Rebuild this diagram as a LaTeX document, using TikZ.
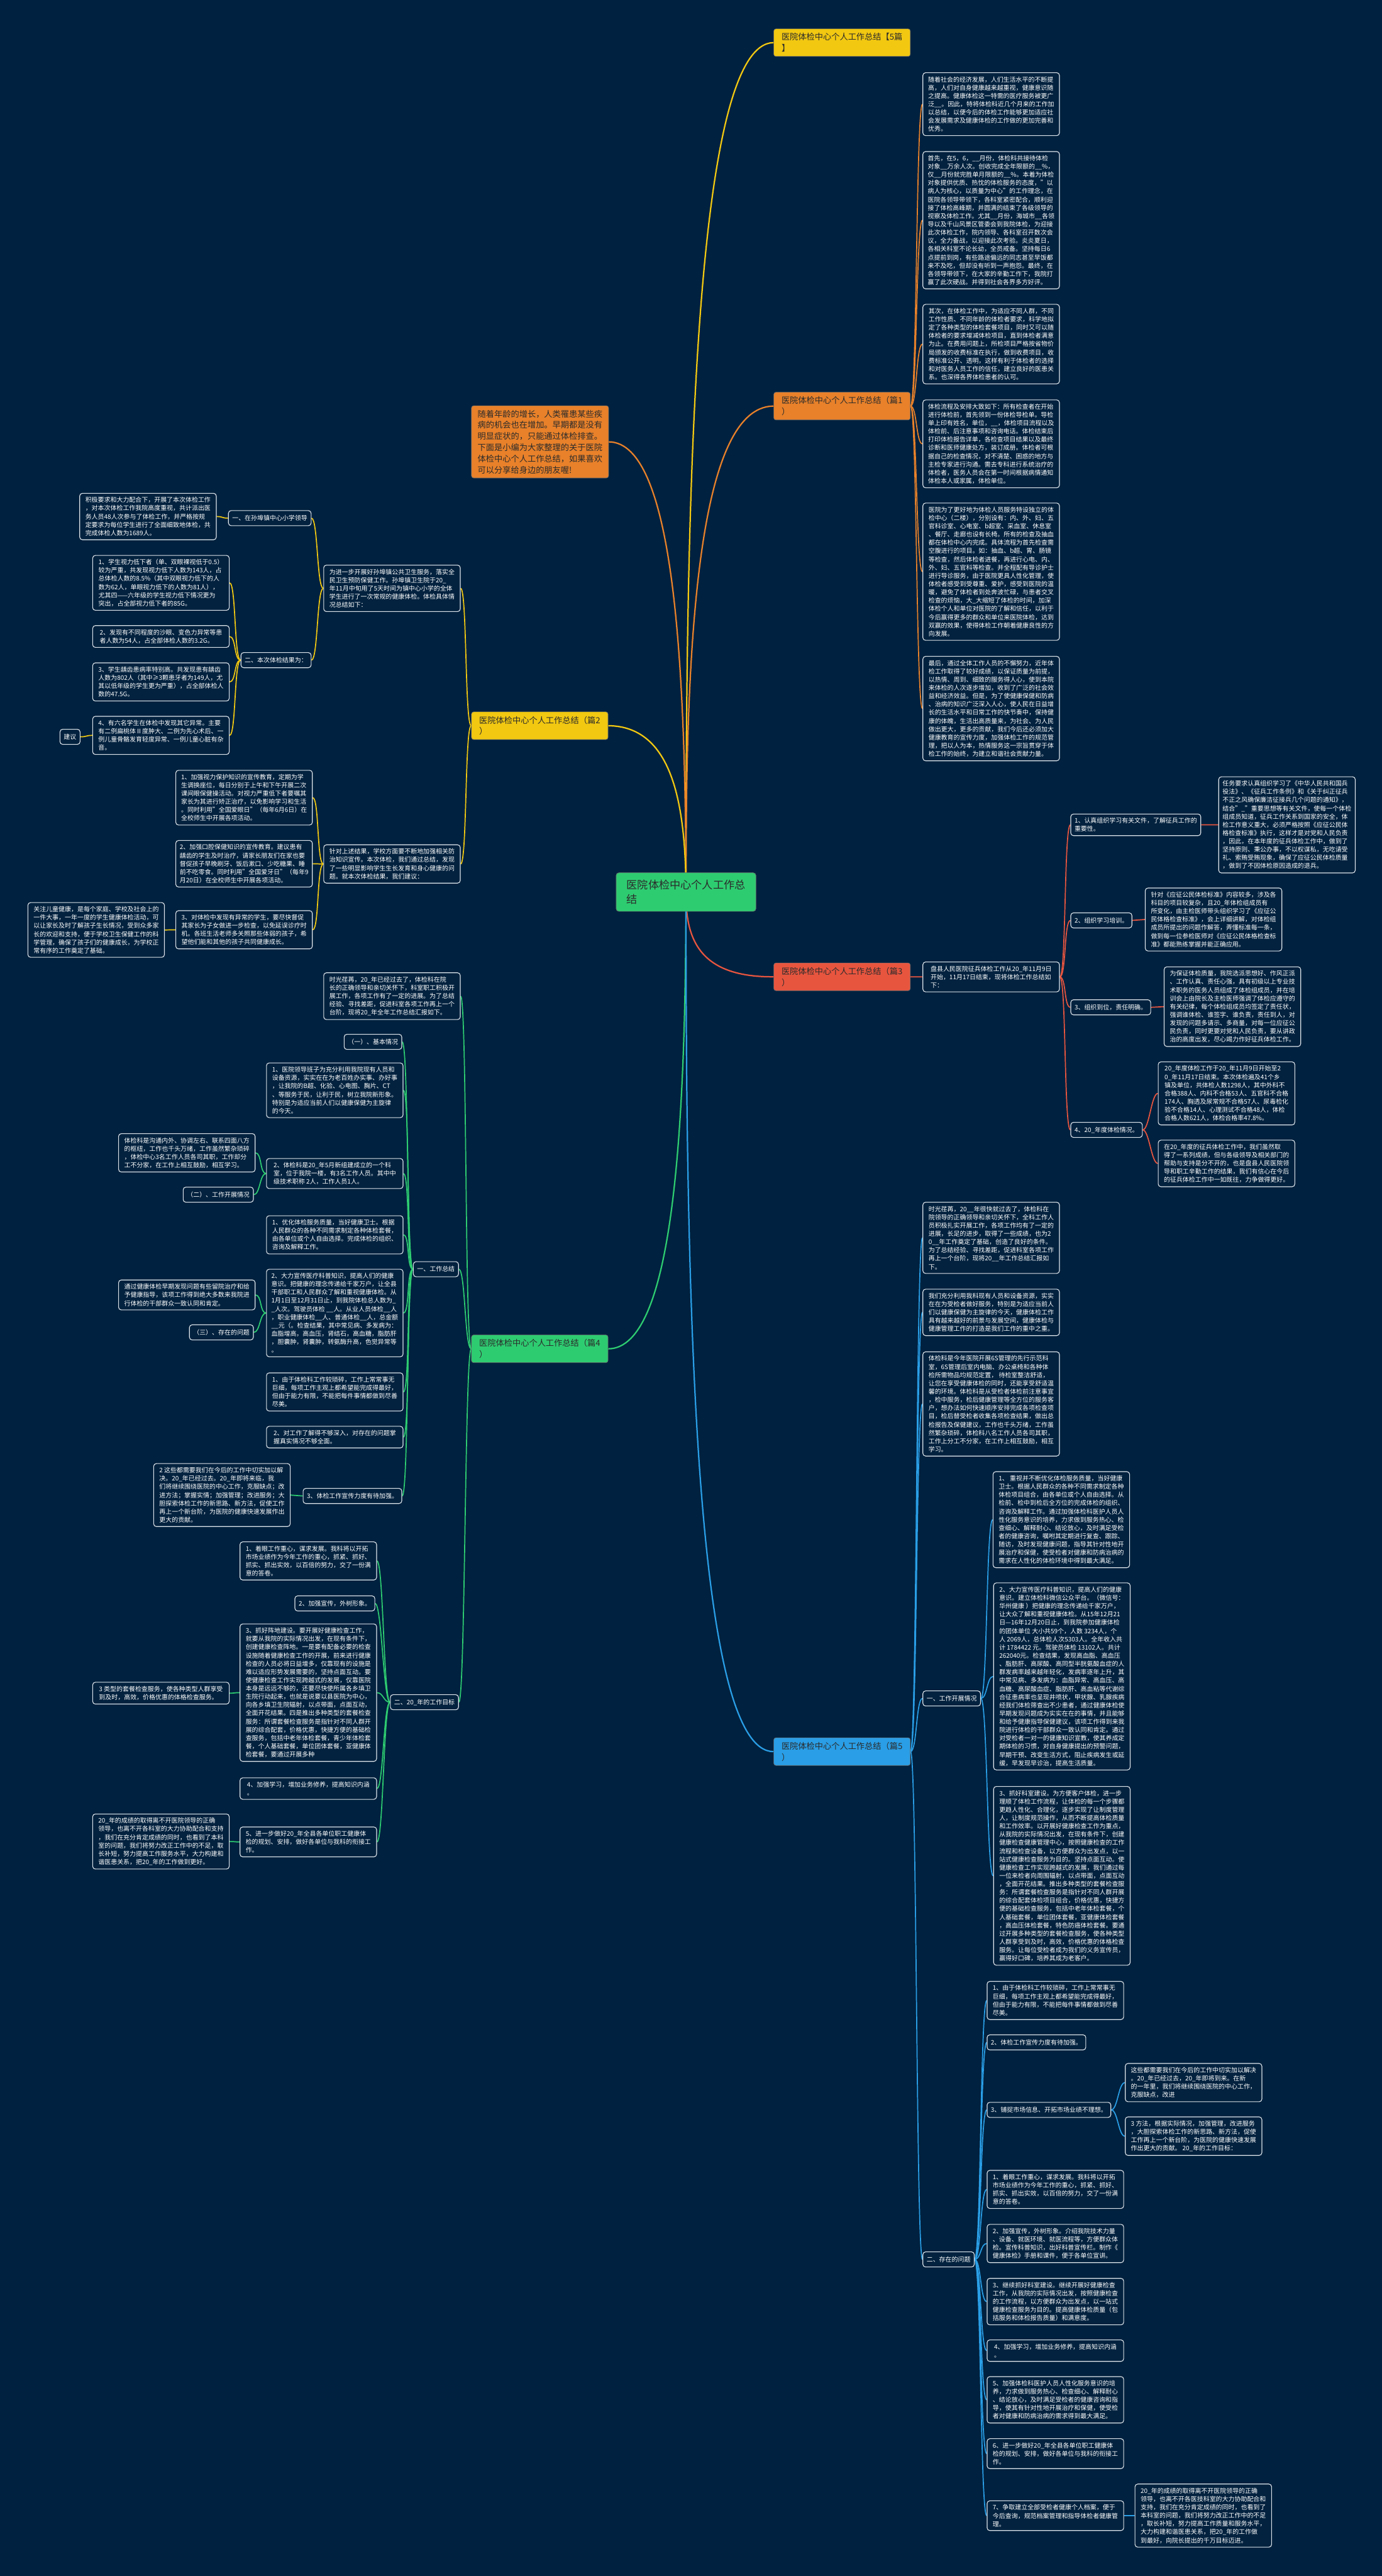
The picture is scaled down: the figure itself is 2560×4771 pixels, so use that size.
\documentclass[tikz,border=0pt]{standalone}
\usepackage{fontspec}
\setmainfont{Noto Sans CJK SC}
\definecolor{navy}{HTML}{00213F}
\definecolor{boxfill}{HTML}{03223F}
\definecolor{boxline}{HTML}{DDE3EA}
\definecolor{yel}{HTML}{F2C811}
\definecolor{org}{HTML}{E8812A}
\definecolor{rd}{HTML}{E8553F}
\definecolor{grn}{HTML}{2ECC71}
\definecolor{blu}{HTML}{2A9EE6}
\definecolor{ink}{HTML}{2B2B2B}
\pgfdeclarelayer{paper}
\pgfdeclarelayer{links}
\pgfsetlayers{paper,links,main}

\begin{document}
\begin{tikzpicture}[x=1pt, y=-1pt,
    txt/.style={draw=boxline, fill=boxfill, line width=1.3pt, rounded corners=5pt,
      text=white, align=left, inner xsep=7pt, inner ysep=7pt,
      font=\fontsize{11.6}{15.3}\selectfont},
    wide/.style={txt, anchor=north west, minimum width=253pt},
    tag/.style={txt, anchor=north west, minimum height=28pt},
    ltag/.style={txt, anchor=north east, minimum height=28pt},
    ttl/.style={fill=#1, draw=ink!70, line width=0.8pt, rounded corners=4pt, text=ink,
      align=left, anchor=north west, minimum width=253pt, inner xsep=8pt, inner ysep=8pt,
      font=\fontsize{15.4}{20.7}\selectfont},
    hubbox/.style={fill=grn, draw=ink!70, line width=0.8pt, rounded corners=5pt, text=ink,
      align=left, anchor=north west, minimum width=259pt, inner xsep=12pt, inner ysep=13pt,
      font=\fontsize{20}{27}\selectfont},
    trunk/.style={line width=2.6pt},
    twig/.style={line width=2pt}
  ]
  \begin{pgfonlayer}{paper}
    \fill[navy] (0,0) rectangle (2560,4771);
  \end{pgfonlayer}
  \useasboundingbox (0,0) rectangle (2560,4771);

  % centre and branch titles
  \node[hubbox] (hub) at (1141,1616) {医院体检中心个人工作总\\结};
  \node[ttl=yel] (t0) at (1433,53) {医院体检中心个人工作总结【5篇\\】};
  \node[ttl=org] (t1) at (1433,726) {医院体检中心个人工作总结（篇1\\）};
  \node[ttl=org, minimum width=254pt] (intro) at (873,751) {随着年龄的增长，人类罹患某些疾\\病的机会也在增加。早期都是没有\\明显症状的，只能通过体检排查。\\下面是小编为大家整理的关于医院\\体检中心个人工作总结，如果喜欢\\可以分享给身边的朋友喔!};
  \node[ttl=yel] (t2) at (873,1318) {医院体检中心个人工作总结（篇2\\）};
  \node[ttl=rd] (t3) at (1433,1783) {医院体检中心个人工作总结（篇3\\）};
  \node[ttl=grn] (t4) at (873,2472) {医院体检中心个人工作总结（篇4\\）};
  \node[ttl=blu] (t5) at (1433,3218) {医院体检中心个人工作总结（篇5\\）};

  % 篇1
  \node[wide] (bA) at (1709,134) {随着社会的经济发展，人们生活水平的不断提\\高，人们对自身健康越来越重视，健康意识随\\之提高。健康体检这一特需的医疗服务被更广\\泛\_\_。因此，特将体检科近几个月来的工作加\\以总结，以便今后的体检工作能够更加适应社\\会发展需求及健康体检的工作做的更加完善和\\优秀。};
  \node[wide] (bB) at (1709,280) {首先，在5，6，\_\_月份，体检科共接待体检\\对象\_\_万余人次。创收完成全年限额的\_\_\%，\\仅\_\_月份就完胜单月限额的\_\_\%。本着为体检\\对象提供优质、热忱的体检服务的态度，"以\\病人为核心，以质量为中心"的工作理念，在\\医院各领导带领下，各科室紧密配合，顺利迎\\接了体检高峰期，并圆满的结束了各级领导的\\视察及体检工作。尤其\_\_月份，海城市\_\_各领\\导以及千山风景区管委会到我院体检，为迎接\\此次体检工作，院内领导、各科室召开数次会\\议，全力备战，以迎接此次考验。炎炎夏日，\\各相关科室不论长幼，全员戒备。坚持每日6\\点提前到岗，有些路途偏远的同志甚至早饭都\\来不及吃，但却没有听到一声抱怨。最终，在\\各领导带领下，在大家的辛勤工作下，我院打\\赢了此次硬战。并得到社会各界多方好评。};
  \node[wide] (bC) at (1709,563) {其次，在体检工作中，为适应不同人群，不同\\工作性质、不同年龄的体检者要求，科学地拟\\定了各种类型的体检套餐项目，同时又可以随\\体检者的要求增减体检项目，直到体检者满意\\为止。在费用问题上，所检项目严格按省物价\\局颁发的收费标准在执行，做到收费项目，收\\费标准公开、透明，这样有利于体检者的选择\\和对医务人员工作的信任，建立良好的医患关\\系。也深得各界体检患者的认可。};
  \node[wide] (bD) at (1709,740) {体检流程及安排大致如下：所有检查者在开始\\进行体检前，首先领到一份体检导检单。导检\\单上印有姓名，单位，\_\_，体检项目流程以及\\体检前、后注意事项和咨询电话。体检结束后\\打印体检报告详单，各检查项目结果以及最终\\诊断和医师健康处方，装订成册。体检者可根\\据自己的检查情况，对不清楚、困惑的地方与\\主检专家进行沟通。需去专科进行系统治疗的\\体检者，医务人员会在第一时间根据病情通知\\体检本人或家属，体检单位。};
  \node[wide] (bE) at (1709,931) {医院为了更好地为体检人员服务特设独立的体\\检中心（二楼），分别设有：内、外、妇、五\\官科诊室、心电室、b超室、采血室、休息室\\、餐厅、走廊也设有长椅。所有的检查及抽血\\都在体检中心内完成。具体流程为首先检查需\\空腹进行的项目。如：抽血、b超、胃、肠镜\\等检查，然后体检者进餐，再进行心电、内、\\外、妇、五官科等检查。并全程配有导诊护士\\进行导诊服务，由于医院更具人性化管理，使\\体检者感受到受尊重、爱护，感受到医院的温\\暖，避免了体检者到处奔波忙碌，与患者交叉\\检查的烦恼，大\_大缩短了体检的时间，加深\\体检个人和单位对医院的了解和信任，以利于\\今后赢得更多的群众和单位来医院体检，达到\\双赢的效果，使得体检工作朝着健康良性的方\\向发展。};
  \node[wide] (bF) at (1709,1215) {最后，通过全体工作人员的不懈努力，近年体\\检工作取得了较好成绩，以保证质量为前提，\\以热情、周到、细致的服务得人心，使到本院\\来体检的人次逐步增加，收到了广泛的社会效\\益和经济效益。但是，为了使健康保健和防病\\、治病的知识广泛深入人心，使人民在日益增\\长的生活水平和日常工作的快节奏中，保持健\\康的体魄，生活出高质量来，为社会、为人民\\做出更大，更多的贡献，我们今后还必须加大\\健康教育的宣传力度，加强体检工作的规范管\\理，把以人为本，热情服务这一宗旨贯穿于体\\检工作的始终，为建立和谐社会贡献力量。};

  % 篇2
  \node[wide] (k1) at (599,1046) {为进一步开展好孙埠镇公共卫生服务，落实全\\民卫生预防保健工作。孙埠镇卫生院于20\_\\年11月中旬用了5天时间为镇中心小学的全体\\学生进行了一次常规的健康体检。体检具体情\\况总结如下：};
  \node[ltag] (m1) at (577,945) {一、在孙埠镇中心小学领导};
  \node[wide] (m1a) at (147,913) {积极要求和大力配合下，开展了本次体检工作\\，对本次体检工作我院高度重视，共计派出医\\务人员48人次参与了体检工作，并严格按规\\定要求为每位学生进行了全面细致地体检，共\\完成体检人数为1689人。};
  \node[ltag] (m2) at (577,1208) {二、本次体检结果为：};
  \node[wide] (s1) at (171,1028) {1、学生视力低下者（单、双眼裸视低于0.5）\\较为严重，共发现视力低下人数为143人，占\\总体检人数的8.5\%（其中双眼视力低下的人\\数为62人，单眼视力低下的人数为81人），\\尤其四——六年级的学生视力低下情况更为\\突出，占全部视力低下者的85G。};
  \node[wide] (s2) at (171,1158) {2、发现有不同程度的沙眼、变色力异常等患\\者人数为54人，占全部体检人数的3.2G。};
  \node[wide] (s3) at (171,1227) {3、学生龋齿患病率特别高。共发现患有龋齿\\人数为802人（其中≥3颗患牙者为149人，尤\\其以低年级的学生更为严重），占全部体检人\\数的47.5G。};
  \node[wide] (s4) at (171,1326) {4、有六名学生在体检中发现其它异常。主要\\有二例扁桃体Ⅱ度肿大、二例为先心术后、一\\例儿童骨骼发育轻度异常、一例儿童心脏有杂\\音。};
  \node[ltag] (jy) at (149,1350) {建议};
  \node[wide] (k2) at (599,1564) {针对上述结果，学校方面要不断地加强相关防\\治知识宣传。本次体检，我们通过总结，发现\\了一些明显影响学生生长发育和身心健康的问\\题。就本次体检结果，我们建议：};
  \node[wide] (j1) at (325,1426) {1、加强视力保护知识的宣传教育，定期为学\\生调换座位，每日分别于上午和下午开展二次\\课间眼保健操活动。对视力严重低下者要嘱其\\家长为其进行矫正治疗，以免影响学习和生活\\。同时利用"全国爱眼日"（每年6月6日）在\\全校师生中开展各项活动。};
  \node[wide] (j2) at (325,1556) {2、加强口腔保健知识的宣传教育。建议患有\\龋齿的学生及时治疗，请家长朋友们在家也要\\督促孩子早晚刷牙、饭后漱口、少吃糖果、睡\\前不吃零食。同时利用"全国爱牙日"（每年9\\月20日）在全校师生中开展各项活动。};
  \node[wide] (j3) at (325,1686) {3、对体检中发现有异常的学生，要尽快督促\\其家长为子女做进一步检查，以免延误诊疗时\\机。各班生活老师多关照那些体弱的孩子，希\\望他们能和其他的孩子共同健康成长。};
  \node[wide] (gz) at (51,1671) {关注儿童健康，是每个家庭、学校及社会上的\\一件大事，一年一度的学生健康体检活动，可\\以让家长及时了解孩子生长情况，受到众多家\\长的欢迎和支持，便于学校卫生保健工作的科\\学管理，确保了孩子们的健康成长，为学校正\\常有序的工作奠定了基础。};

  % 篇3
  \node[wide] (p3) at (1709,1781) {盘县人民医院征兵体检工作从20\_年11月9日\\开始，11月17日结束，现将体检工作总结如\\下：};
  \node[tag] (r1) at (1983,1507) {1、认真组织学习有关文件，了解征兵工作的\\重要性。};
  \node[wide] (r1a) at (2257,1438) {任务要求认真组织学习了《中华人民共和国兵\\役法》、《征兵工作条例》和《关于纠正征兵\\不正之风确保廉洁征接兵几个问题的通知》，\\结合"\_"重要思想等有关文件，使每一个体检\\组成员知道，征兵工作关系到国家的安全，体\\检工作意义重大，必须严格按照《应征公民体\\格检查标准》执行，这样才是对党和人民负责\\，因此，在本年度的征兵体检工作中，做到了\\坚持原则、秉公办事，不以权谋私，无吃请受\\礼、索贿受贿现象，确保了应征公民体检质量\\，做到了不因体检原因造成的退兵。};
  \node[tag] (r2) at (1983,1690) {2、组织学习培训。};
  \node[wide] (r2a) at (2121,1644) {针对《应征公民体检标准》内容较多，涉及各\\科目的项目较复杂，且20\_年体检组成员有\\所变化，由主检医师带头组织学习了《应征公\\民体格检查标准》，会上详细讲解，对体检组\\成员所提出的问题作解答，弄懂标准每一条，\\做到每一位参检医师对《应征公民体格检查标\\准》都能熟练掌握并能正确应用。};
  \node[tag] (r3) at (1983,1851) {3、组织到位，责任明确。};
  \node[wide] (r3a) at (2156,1790) {为保证体检质量，我院选派思想好、作风正派\\、工作认真、责任心强，具有初级以上专业技\\术职务的医务人员组成了体检组成员，并在培\\训会上由院长及主检医师强调了体检应遵守的\\有关纪律，每个体检组成员均签定了责任状，\\强调谁体检、谁签字、谁负责，责任到人，对\\发现的问题多请示、多商量，对每一位应征公\\民负责，同时更要对党和人民负责，要从讲政\\治的高度出发，尽心竭力作好征兵体检工作。};
  \node[tag] (r4) at (1983,2078) {4、20\_年度体检情况。};
  \node[wide] (r4a) at (2145,1966) {20\_年度体检工作于20\_年11月9日开始至2\\0\_年11月17日结束。本次体检遍及41个乡\\镇及单位，共体检人数1298人，其中外科不\\合格388人、内科不合格53人、五官科不合格\\174人、胸透及尿常规不合格57人、尿毒检化\\验不合格14人、心理测试不合格48人，体检\\合格人数621人，体检合格率47.8\%。};
  \node[wide] (r4b) at (2145,2111) {在20\_年度的征兵体检工作中，我们虽然取\\得了一系列成绩，但与各级领导及相关部门的\\帮助与支持是分不开的，也是盘县人民医院领\\导和职工辛勤工作的结果，我们有信心在今后\\的征兵体检工作中一如既往，力争做得更好。};

  % 篇4
  \node[wide] (u0) at (599,1801) {时光荏苒，20\_年已经过去了，体检科在院\\长的正确领导和亲切关怀下，科室职工积极开\\展工作，各项工作有了一定的进展。为了总结\\经验、寻找差距，促进科室各项工作再上一个\\台阶，现将20\_年全年工作总结汇报如下。};
  \node[ltag] (u1) at (850,2336) {一、工作总结};
  \node[ltag] (v0) at (745,1915) {（一）、基本情况};
  \node[wide] (v1) at (493,1968) {1、医院领导班子为充分利用我院现有人员和\\设备资源，实实在在为老百姓办实事、办好事\\，让我院的B超、化验、心电图、胸片、CT\\、等服务于民，让利于民，树立我院新形象。\\ 特别是为适应当前人们以健康保健为主旋律\\的今天。};
  \node[wide] (v2) at (493,2145) {2、体检科是20\_年5月新组建成立的一个科\\室，位于我院一楼，有3名工作人员。其中中\\级技术职称 2人，工作人员1人。};
  \node[wide] (v2a) at (219,2099) {体检科是沟通内外、协调左右、联系四面八方\\的枢纽，工作也千头万绪，工作虽然繁杂琐碎\\，体检中心3名工作人员各司其职，工作却分\\工不分家，在工作上相互鼓励，相互学习。};
  \node[ltag] (v2b) at (470,2198) {（二）、工作开展情况};
  \node[wide] (v3) at (493,2251) {1、优化体检服务质量，当好健康卫士。根据\\人民群众的各种不同需求制定各种体检套餐，\\由各单位或个人自由选择。完成体检的组织、\\咨询及解释工作。};
  \node[wide] (v4) at (493,2350) {2、大力宣传医疗科普知识，提高人们的健康\\意识。把健康的理念传递给千家万户，让全县\\干部职工和人民群众了解和重视健康体检。从\\1月1日至12月31日止，到我院体检总人数为\_\\\_人次。驾驶员体检 \_\_人。从业人员体检\_\_人\\，职业健康体检\_\_人、普通体检\_\_人，总金额\\\_\_元（。检查结果，其中常见病、多发病为：\\血脂增高，高血压，肾结石，高血糖，脂肪肝\\，胆囊肿，肾囊肿，转氨酶升高，色觉异常等\\。};
  \node[wide] (v4a) at (219,2370) {通过健康体检早期发现问题有些留院治疗和给\\予健康指导，该项工作得到绝大多数来我院进\\行体检的干部群众一致认同和肯定。};
  \node[ltag] (v4b) at (470,2453) {（三）、存在的问题};
  \node[wide] (v5) at (493,2542) {1、由于体检科工作较琐碎，工作上常常事无\\巨细，每项工作主观上都希望能完成得最好，\\但由于能力有限，不能把每件事情都做到尽善\\尽美。};
  \node[wide] (v6) at (493,2641) {2、对工作了解得不够深入，对存在的问题掌\\握真实情况不够全面。};
  \node[ltag] (v7) at (745,2756) {3、体检工作宣传力度有待加强。};
  \node[wide] (v7a) at (284,2710) {2 这些都需要我们在今后的工作中切实加以解\\决。20\_年已经过去。20\_年即将来临，我\\们将继续围绕医院的中心工作，克服缺点；改\\进方法；掌握实情；加强管理；改进服务；大\\胆探索体检工作的新思路、新方法，促使工作\\再上一个新台阶，为医院的健康快速发展作出\\更大的贡献。};
  \node[ltag] (u2) at (850,3138) {二、20\_年的工作目标};
  \node[wide] (w1) at (444,2855) {1、着眼工作重心，谋求发展。我科将以开拓\\市场业绩作为今年工作的重心，抓紧、抓好、\\抓实、抓出实效，以百倍的努力，交了一份满\\意的答卷。};
  \node[ltag] (w2) at (695,2955) {2、加强宣传，外树形象。};
  \node[wide] (w3) at (444,3007) {3、抓好阵地建设。要开展好健康检查工作，\\就要从我院的实际情况出发，在现有条件下，\\创建健康检查阵地。一是要有配备必要的检查\\设施随着健康检查工作的开展，前来进行健康\\检查的人员必将日益增多，仅靠现有的设施是\\难以适应形势发展需要的，坚持点面互动。要\\使健康检查工作实现跨越式的发展，仅靠医院\\本身是远远不够的，还要尽快使所属各乡填卫\\生院行动起来，也就是说要以县医院为中心，\\向各乡填卫生院辐射，以点带面，点面互动，\\全面开花结果。四是推出多种类型的套餐检查\\服务：所谓套餐检查服务是指针对不同人群开\\展的综合配套，价格优惠，快捷方便的基础检\\查服务，包括中老年体检套餐，青少年体检套\\餐，个人基础套餐，单位团体套餐，亚健康体\\检套餐，要通过开展多种};
  \node[wide] (w3a) at (171,3115) {3 类型的套餐检查服务，使各种类型人群享受\\到及时，高效，价格优惠的体格检查服务。};
  \node[wide] (w4) at (444,3292) {4、加强学习，增加业务修养，提高知识内涵\\。};
  \node[wide] (w5) at (444,3383) {5、进一步做好20\_年全县各单位职工健康体\\检的规划、安排，做好各单位与我科的衔接工\\作。};
  \node[wide] (w5a) at (171,3359) {20\_年的成绩的取得离不开医院领导的正确\\领导，也离不开各科室的大力协助配合和支持\\，我们在充分肯定成绩的同时，也看到了本科\\室的问题，我们将努力改正工作中的不足，取\\长补短，努力提高工作服务水平，大力构建和\\谐医患关系，把20\_年的工作做到更好。};

  % 篇5
  \node[wide] (f1) at (1709,2226) {时光荏苒，20\_\_年很快就过去了，体检科在\\院领导的正确领导和亲切关怀下，全科工作人\\员积极扎实开展工作，各项工作均有了一定的\\进展，长足的进步，取得了一些成绩，也为2\\0\_\_年工作奠定了基础，创造了良好的条件。\\为了总结经验、寻找差距，促进科室各项工作\\再上一个台阶，现将20\_\_年工作总结汇报如\\下。};
  \node[wide] (f2) at (1709,2387) {我们充分利用我科现有人员和设备资源，实实\\在在为受检者做好服务，特别是为适应当前人\\们以健康保健为主旋律的今天，健康体检工作\\具有越来越好的前景与发展空间，健康体检与\\健康管理工作的打造是我们工作的重中之重。};
  \node[wide] (f3) at (1709,2503) {体检科是今年医院开展6S管理的先行示范科\\室，6S管理后室内电脑、办公桌椅和各种体\\检所需物品均规范定置， 待检室整洁舒适，\\让您在享受健康体检的同时，还能享受舒适温\\馨的环境。体检科是从受检者体检前注意事宜\\，检中服务，检后健康管理等全方位的服务客\\户，想办法如何快速顺序安排完成各项检查项\\目，检后替受检者收集各项检查结果，做出总\\检报告及保健建议，工作也千头万绪，工作虽\\然繁杂琐碎，体检科八名工作人员各司其职，\\工作上分工不分家，在工作上相互鼓励，相互\\学习。};
  \node[tag] (fg) at (1709,3131) {一、工作开展情况};
  \node[wide] (g1) at (1839,2725) {1、 重视并不断优化体检服务质量，当好健康\\卫士。根据人民群众的各种不同需求制定各种\\体检项目组合，由各单位或个人自由选择。从\\检前、检中到检后全方位的完成体检的组织、\\咨询及解释工作。通过加强体检科医护人员人\\性化服务意识的培养，力求做到服务热心、检\\查细心、解释耐心、结论放心，及时满足受检\\者的健康咨询，嘱咐其定期进行复查、跟踪、\\随访，及时发现健康问题，指导其针对性地开\\展治疗和保健，使受检者对健康和防病治病的\\需求在人性化的体检环境中得到最大满足。};
  \node[wide] (g2) at (1840,2931) {2、大力宣传医疗科普知识，提高人们的健康\\意识。建立体检科微信公众平台。（微信号：\\华州健康 ）把健康的理念传递给千家万户，\\让大众了解和重视健康体检。从15年12月21\\日—16年12月20日止，到我院参加健康体检\\的团体单位 大小共59个，人数 3234人，个\\人 2069人，总体检人次5303人。全年收入共\\计 1784422 元。驾驶员体检 13102人。共计\\262040元。检查结果，发现高血脂、高血压\\、脂肪肝、高尿酸、高同型半胱氨酸血症的人\\群发病率越来越年轻化，发病率逐年上升，其\\中常见病、多发病为：血脂异常、高血压、高\\血糖、高尿酸血症、脂肪肝、高血粘等代谢综\\合征患病率也呈现井喷状，甲状腺、乳腺疾病\\经我们体检筛查出不少患者，通过健康体检使\\早期发现问题成为实实在在的事情，并且能够\\和给予健康指导保健建议，该项工作得到来我\\院进行体检的干部群众一致认同和肯定。通过\\对受检者一对一的健康知识宣教，使其养成定\\期体检的习惯，对自身健康提出的预警问题，\\早期干预、改变生活方式，阻止疾病发生或延\\缓，早发现早诊治，提高生活质量。};
  \node[wide] (g3) at (1840,3308) {3、抓好科室建设。为方便客户体检，进一步\\理顺了体检工作流程，让体检的每一个步骤都\\更趋人性化、合理化，逐步实现了让制度管理\\人，让制度规范操作，从而不断提高体检质量\\和工作效率。以开展好健康检查工作为重点，\\从我院的实际情况出发，在现有条件下，创建\\健康检查健康管理中心，按照健康检查的工作\\流程和检查设备，以方便群众为出发点，以一\\站式健康检查服务为目的。坚持点面互动。使\\健康检查工作实现跨越式的发展，我们通过每\\一位来检者向周围辐射，以点带面，点面互动\\，全面开花结果。推出多种类型的套餐检查服\\务：所谓套餐检查服务是指针对不同人群开展\\的综合配套体检项目组合，价格优惠，快捷方\\便的基础检查服务，包括中老年体检套餐，个\\人基础套餐，单位团体套餐，亚健康体检套餐\\，高血压体检套餐，特色防癌体检套餐。要通\\过开展多种类型的套餐检查服务，使各种类型\\人群享受到及时，高效，价格优惠的体格检查\\服务。让每位受检者成为我们的义务宣传员，\\赢得好口碑，培养其成为老客户。};
  \node[tag] (fh) at (1709,4170) {二、存在的问题};
  \node[wide] (h1) at (1828,3669) {1、由于体检科工作较琐碎，工作上常常事无\\巨细，每项工作主观上都希望能完成得最好，\\但由于能力有限，不能把每件事情都做到尽善\\尽美。};
  \node[tag] (h2) at (1828,3768) {2、体检工作宣传力度有待加强。};
  \node[tag] (h3) at (1828,3893) {3、铺捉市场信息、开拓市场业绩不理想。};
  \node[wide] (h3a) at (2084,3821) {这些都需要我们在今后的工作中切实加以解决\\。20\_年已经过去，20\_年即将到来。在新\\的一年里，我们将继续围绕医院的中心工作，\\克服缺点，改进};
  \node[wide] (h3b) at (2084,3920) {3 方法，根据实际情况，加强管理，改进服务\\，大胆探索体检工作的新思路、新方法，促使\\工作再上一个新台阶，为医院的健康快速发展\\作出更大的贡献。 20\_年的工作目标：};
  \node[wide] (h4) at (1828,4019) {1、着眼工作重心，谋求发展。我科将以开拓\\市场业绩作为今年工作的重心，抓紧、抓好、\\抓实、抓出实效，以百倍的努力，交了一份满\\意的答卷。};
  \node[wide] (h5) at (1828,4119) {2、加强宣传，外树形象。介绍我院技术力量\\、设备、就医环境、就医流程等，方便群众体\\检。宣传科普知识，出好科普宣传栏。制作《\\健康体检》手册和课件，便于各单位宣讲。};
  \node[wide] (h6) at (1828,4219) {3、继续抓好科室建设。继续开展好健康检查\\工作，从我院的实际情况出发，按照健康检查\\的工作流程，以方便群众为出发点，以一站式\\健康检查服务为目的。提高健康体检质量（包\\括服务和体检报告质量）和满意度。};
  \node[wide] (h7) at (1828,4333) {4、加强学习，增加业务修养，提高知识内涵\\。};
  \node[wide] (h8) at (1828,4401) {5、加强体检科医护人员人性化服务意识的培\\养，力求做到服务热心、检查细心、解释耐心\\、结论放心，及时满足受检者的健康咨询和指\\导，使其有针对性地开展治疗和保健，使受检\\者对健康和防病治病的需求得到最大满足。};
  \node[wide] (h9) at (1828,4516) {6、进一步做好20\_年全县各单位职工健康体\\检的规划、安排，做好各单位与我科的衔接工\\作。};
  \node[wide] (h10) at (1828,4631) {7、争取建立全部受检者健康个人档案，便于\\今后查询，规范档案管理和指导体检者健康管\\理。};
  \node[wide] (h10a) at (2102,4600) {20\_年的成绩的取得离不开医院领导的正确\\领导，也离不开各医技科室的大力协助配合和\\支持，我们在充分肯定成绩的同时，也看到了\\本科室的问题，我们将努力改正工作中的不足\\，取长补短，努力提高工作质量和服务水平，\\大力构建和谐医患关系，把20\_年的工作做\\到最好，向院长提出的千万目标迈进。};

  \begin{pgfonlayer}{links}
    % trunks from the centre
    \draw[trunk, yel] (hub.center) .. controls (1270,868) and (1290,80) .. (t0.west);
    \draw[trunk, org] (hub.center) .. controls (1270,1204) and (1290,753) .. (t1.west);
    \draw[trunk, org] (hub.center) .. controls (1270,1237) and (1250,819) .. (intro.east);
    \draw[trunk, yel] (hub.center) .. controls (1270,1500) and (1250,1345) .. (t2.east);
    \draw[trunk, rd]  (hub.center) .. controls (1270,1733) and (1290,1810) .. (t3.west);
    \draw[trunk, grn] (hub.center) .. controls (1270,2077) and (1250,2498) .. (t4.east);
    \draw[trunk, blu] (hub.center) .. controls (1270,2450) and (1290,3245) .. (t5.west);

    % right-hand branches
    \foreach \a/\b in {t1/bA, t1/bB, t1/bC, t1/bD, t1/bE, t1/bF}
      \draw[twig, org] (\a.east) .. controls +(12,0) and +(-12,0) .. (\b.west);
    \foreach \a/\b in {t3/p3, p3/r1, p3/r2, p3/r3, p3/r4, r1/r1a, r2/r2a, r3/r3a, r4/r4a, r4/r4b}
      \draw[twig, rd] (\a.east) .. controls +(12,0) and +(-12,0) .. (\b.west);
    \foreach \a/\b in {t5/f1, t5/f2, t5/f3, t5/fg, t5/fh, fg/g1, fg/g2, fg/g3,
        fh/h1, fh/h2, fh/h3, fh/h4, fh/h5, fh/h6, fh/h7, fh/h8, fh/h9, fh/h10,
        h3/h3a, h3/h3b, h10/h10a}
      \draw[twig, blu] (\a.east) .. controls +(12,0) and +(-12,0) .. (\b.west);

    % left-hand branches
    \foreach \a/\b in {t2/k1, t2/k2, k1/m1, k1/m2, m1/m1a, m2/s1, m2/s2, m2/s3, m2/s4,
        s4/jy, k2/j1, k2/j2, k2/j3, j3/gz}
      \draw[twig, yel] (\a.west) .. controls +(-12,0) and +(12,0) .. (\b.east);
    \foreach \a/\b in {t4/u0, t4/u1, t4/u2, u1/v0, u1/v1, u1/v2, u1/v3, u1/v4, u1/v5,
        u1/v6, u1/v7, v2/v2a, v2/v2b, v4/v4a, v4/v4b, v7/v7a,
        u2/w1, u2/w2, u2/w3, u2/w4, u2/w5, w3/w3a, w5/w5a}
      \draw[twig, grn] (\a.west) .. controls +(-12,0) and +(12,0) .. (\b.east);
  \end{pgfonlayer}
\end{tikzpicture}
\end{document}
